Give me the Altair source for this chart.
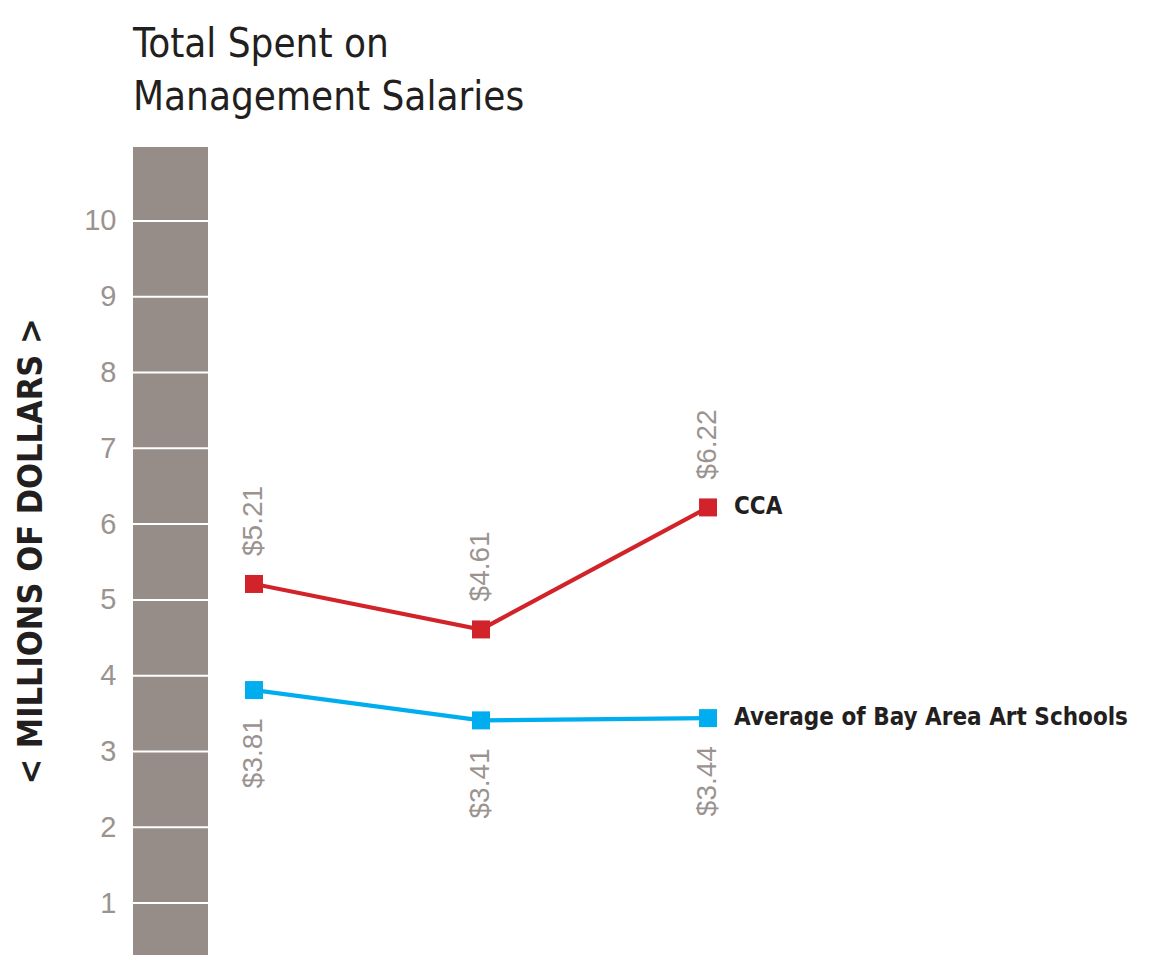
import altair as alt
import pandas as pd

# ---- data ----
periods = [0, 1, 2]
cca = [5.21, 4.61, 6.22]
bay_avg = [3.81, 3.41, 3.44]
series_names = ["CCA", "Average of Bay Area Art Schools"]
series_colors = ["#d2232a", "#00aeef"]
tick_values = [1, 2, 3, 4, 5, 6, 7, 8, 9, 10]
y_domain = [0.314, 10.976]
x_domain = [-0.533, 3.872]

NARROW = "DejaVu Sans Condensed, sans-serif"
SANS = "Liberation Sans, Arial, Helvetica, sans-serif"
GRAY = "#9b9390"
BAR = "#968d89"
INK = "#231f20"

rows = []
for name, vals, pos in [(series_names[0], cca, "above"), (series_names[1], bay_avg, "below")]:
    for p, v in zip(periods, vals):
        rows.append({"period": p, "value": v, "series": name, "label": f"${v:.2f}", "pos": pos})
df = pd.DataFrame(rows)
last = df[df["period"] == periods[-1]]

bar_df = pd.DataFrame({"value": [y_domain[0]], "value2": [y_domain[1]]})
tick_df = pd.DataFrame({"value": tick_values})

W, H = 1000, 808

yaxis = alt.Axis(
    values=tick_values,
    labelColor=GRAY,
    labelFont=SANS,
    labelFontSize=29,
    labelPadding=17,
    ticks=False,
    domain=False,
    grid=False,
    title="< MILLIONS OF DOLLARS >",
    titleFont=NARROW,
    titleFontSize=34,
    titleFontWeight="bold",
    titleColor=INK,
    titlePadding=35,
)
yscale = alt.Scale(domain=y_domain, nice=False, zero=False)
xscale = alt.Scale(domain=x_domain, nice=False, zero=False)


def Y(field="value"):
    return alt.Y(field, type="quantitative", scale=yscale, axis=yaxis)


color = alt.Color("series:N", scale=alt.Scale(domain=series_names, range=series_colors), legend=None)
X = alt.X("period:Q", scale=xscale, axis=None)

bar = alt.Chart(bar_df).mark_rect(color=BAR).encode(
    x=alt.value(0), x2=alt.value(75), y=Y(), y2="value2:Q"
)
ticks = alt.Chart(tick_df).mark_rule(color="white", strokeWidth=2).encode(
    x=alt.value(0), x2=alt.value(75), y=Y()
)
lines = alt.Chart(df).mark_line(strokeWidth=4.2).encode(x=X, y=Y(), color=color, detail="series:N")
points = alt.Chart(df).mark_point(shape="square", filled=True, size=324, opacity=1).encode(
    x=X, y=Y(), color=color
)
lab_above = alt.Chart(df[df["pos"] == "above"]).mark_text(
    angle=270, align="left", baseline="middle", dx=28, font=SANS, fontSize=28, color=GRAY
).encode(x=X, y=Y(), text="label:N")
lab_below = alt.Chart(df[df["pos"] == "below"]).mark_text(
    angle=270, align="right", baseline="middle", dx=-28, font=SANS, fontSize=28, color=GRAY
).encode(x=X, y=Y(), text="label:N")
names = alt.Chart(last).mark_text(
    align="left", baseline="middle", dx=26, font=NARROW, fontSize=24, fontWeight="bold", color=INK
).encode(x=X, y=Y(), text="series:N")

chart = (
    alt.layer(bar, ticks, lines, points, lab_above, lab_below, names)
    .properties(
        width=W,
        height=H,
        autosize=alt.AutoSizeParams(type="none"),
        padding={"left": 125, "top": 139, "right": 0, "bottom": 0},
        title=alt.TitleParams(
            text=["Total Spent on", "Management Salaries"],
            anchor="start",
            frame="group",
            font=NARROW,
            fontSize=40,
            fontWeight="normal",
            color=INK,
            lineHeight=53,
            offset=29,
        ),
    )
    .configure_view(stroke=None)
)

chart.save("out.html", embed_options={"renderer": "svg", "actions": False})
